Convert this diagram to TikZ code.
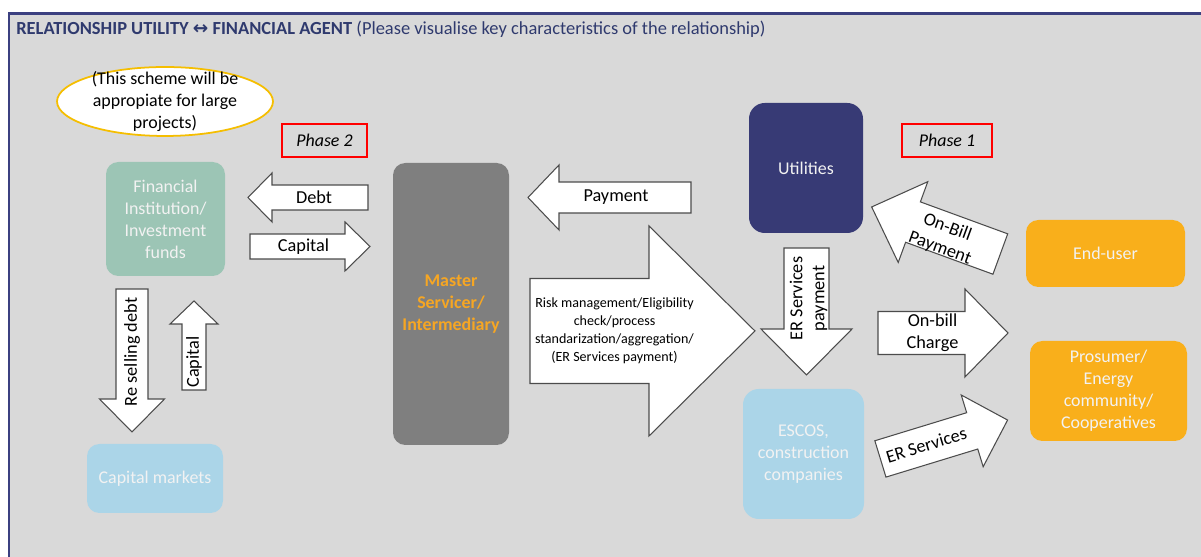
\documentclass[tikz,border=0pt]{standalone}
\usepackage{fontspec}
\setmainfont{Carlito}
\newfontfamily\symfont{DejaVu Sans}
\usetikzlibrary{positioning}

\definecolor{framecol}{HTML}{3B4080}
\definecolor{titlecol}{HTML}{2F3A6E}
\definecolor{panel}{HTML}{D9D9D9}
\definecolor{finfill}{HTML}{9CC5B5}
\definecolor{skyfill}{HTML}{ABD5E8}
\definecolor{navyfill}{HTML}{373A75}
\definecolor{orangefill}{HTML}{F9AF1B}
\definecolor{masterfill}{HTML}{7F7F7F}
\definecolor{mastertext}{HTML}{F6A623}
\definecolor{notecol}{HTML}{F5BE00}
\definecolor{lighttext}{HTML}{F2F2F2}

\tikzset{
  box/.style={rectangle, rounded corners=7pt, align=center, text=lighttext,
    font=\fontsize{10.2}{12.5}\selectfont, inner sep=2pt},
  boxsize/.style 2 args={minimum width=#1*0.02cm, minimum height=#2*0.02cm},
  phase/.style={draw=red, line width=0.8pt, fill=panel, inner sep=0pt,
    font=\fontsize{10.2}{12}\selectfont\itshape},
  barrow/.style={draw=black!70, fill=white, line width=0.6pt},
  albl/.style={align=center, inner sep=0pt, font=\fontsize{10.4}{12.5}\selectfont}
}

% block arrow: name of shaft centre, centre, angle, length, shaft, head width, head length
\newcommand{\blockarrow}[7]{%
  \begin{scope}[shift={#2}, rotate=#3]
    \draw[barrow] ({-#4/2},{-#5/2}) -- ({#4/2-#7},{-#5/2}) -- ({#4/2-#7},{-#6/2})
      -- ({#4/2},0) -- ({#4/2-#7},{#6/2}) -- ({#4/2-#7},{#5/2}) -- ({-#4/2},{#5/2}) -- cycle;
    \coordinate (#1) at ({-#7/2},0);
  \end{scope}}

\begin{document}
\begin{tikzpicture}[x=0.02cm, y=0.02cm]
  \useasboundingbox (0,0) rectangle (1201,557);
  \clip (0,0) rectangle (1201,557);
  \fill[white] (0,0) rectangle (1201,557);
  \fill[panel] (9,-5) rectangle (1215,543);
  \draw[framecol, line width=1.7pt] (9,-5) -- (9,543) -- (1215,543);

  \node[anchor=west, text=titlecol, inner sep=0pt, font=\fontsize{10.5}{12}\selectfont] (title) at (16,528)
    {\textbf{RELATIONSHIP UTILITY {\symfont ↔} FINANCIAL AGENT} (Please visualise key characteristics of the relationship)};

  % note and phases
  \draw[draw=notecol, line width=1pt, fill=white] (165,455.5) ellipse [x radius=2.16cm, y radius=0.69cm];
  \node[albl, font=\fontsize{10.2}{12.5}\selectfont] (note) at (165,455.5) {(This scheme will be\\appropiate for large\\projects)};
  \node[phase, boxsize={85}{33}] (ph2) at (324.5,416.5) {Phase 2};
  \node[phase, boxsize={90}{33}] (ph1) at (947,416.5) {Phase 1};

  % actors
  \node[box, fill=finfill, boxsize={119}{114}] (fin) at (165.5,338) {Financial\\Institution/\\Investment\\funds};
  \node[box, fill=skyfill, boxsize={136}{69}] (capm) at (155,78.5) {Capital markets};
  \node[box, fill=masterfill, text=mastertext, boxsize={116}{282}, font=\fontsize{10.2}{12.5}\selectfont\bfseries] (master) at (451,253) {Master\\Servicer/\\Intermediary};
  \node[box, fill=navyfill, rounded corners=9pt, boxsize={114}{130}] (util) at (806,389) {Utilities};
  \node[box, fill=skyfill, rounded corners=9pt, boxsize={121}{130}] (escos) at (803.5,103) {ESCOS,\\construction\\companies};
  \node[box, fill=orangefill, boxsize={159}{67}] (enduser) at (1105.5,303.5) {End-user};
  \node[box, fill=orangefill, boxsize={157}{100}] (prosumer) at (1108.5,166) {Prosumer/\\Energy\\community/\\Cooperatives};

  % flows
  \blockarrow{debt-c}{(308,359.5)}{180}{120}{25}{49}{24}
  \blockarrow{cap-c}{(310,310.5)}{0}{120}{25}{49}{25}
  \blockarrow{resell-c}{(132,196.5)}{-90}{143}{32}{65}{33}
  \blockarrow{capup-c}{(194,211.5)}{90}{89}{24}{48}{23}
  \blockarrow{pay-c}{(609.5,359.5)}{180}{163}{31}{65}{31}
  \blockarrow{risk-c}{(642.5,226)}{0}{225}{105}{210}{106}
  \blockarrow{erpay-c}{(806.5,245.5)}{-90}{127}{45}{91}{46}
  \blockarrow{obp-c}{(936,326.5)}{159.9}{137}{43}{86}{44}
  \blockarrow{obc-c}{(943,224)}{0}{130}{43}{88}{43}
  \blockarrow{ers-c}{(944,117.5)}{17}{133}{38}{75}{37}

  \node[albl] (debt) at ([xshift=-6*0.02cm]debt-c) {Debt};
  \node[albl] (capital) at ([xshift=6*0.02cm]cap-c) {Capital};
  \node[albl, rotate=90] (resell) at ([yshift=-8*0.02cm]resell-c) {Re selling debt};
  \node[albl, rotate=90] (capup) at ([yshift=-5*0.02cm]capup-c) {Capital};
  \node[albl] (pay) at ([xshift=-9*0.02cm]pay-c) {Payment};
  \node[albl, font=\fontsize{8}{10.2}\selectfont] (risk) at ([xshift=25*0.02cm]risk-c)
    {Risk management/Eligibility\\check/process\\standarization/aggregation/\\(ER Services payment)};
  \node[albl, rotate=90] (erpay) at ([xshift=2*0.02cm, yshift=-10*0.02cm]erpay-c) {ER Services\\payment};
  \node[albl, rotate=-20.1] (obp) at ([xshift=-13*0.02cm]obp-c) {On-Bill\\Payment};
  \node[albl] (obc) at ([xshift=11*0.02cm]obc-c) {On-bill\\Charge};
  \node[albl, rotate=17] (ers) at (ers-c) {ER Services};
\end{tikzpicture}
\end{document}
